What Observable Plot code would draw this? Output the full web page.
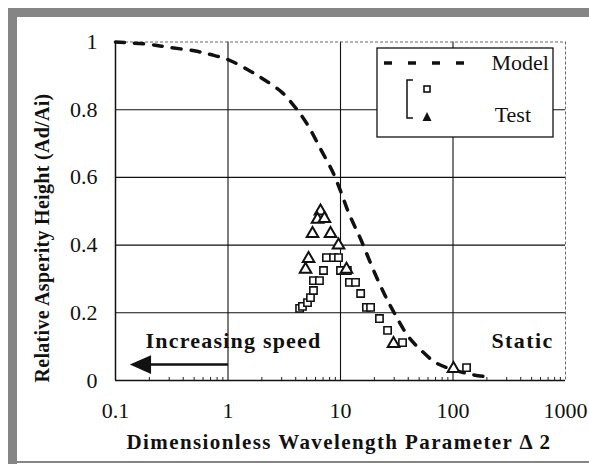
<!DOCTYPE html>
<html>
<head>
<meta charset="utf-8">
<script src="https://cdn.jsdelivr.net/npm/d3@7"></script>
<script src="https://cdn.jsdelivr.net/npm/@observablehq/plot@0.6"></script>
<style>
  html, body { margin: 0; padding: 0; background: #fff; }
  #wrap { position: relative; width: 589px; height: 464px; overflow: hidden; }
  .edge { position: absolute; background: #858585; }
  svg text { font-family: "Liberation Serif", "Times New Roman", serif; }
</style>
</head>
<body>
<div id="wrap">
  <div class="edge" style="left:8px; top:8px; width:581px; height:9px;"></div>
  <div class="edge" style="left:8px; top:8px; width:9px; height:456px;"></div>
  <div class="edge" style="left:17px; top:461px; width:572px; height:2px;"></div>
</div>
<script>
// Model curve: relative asperity height vs dimensionless wavelength parameter
const modelX = [0.1, 0.2, 0.3, 0.5, 0.7, 1, 1.5, 2, 3, 4, 5, 6.75, 8.7, 10, 12, 15, 20, 25, 30, 40, 50, 70, 100, 150, 190];
const modelY = [1.0, 0.993, 0.984, 0.974, 0.963, 0.948, 0.918, 0.893, 0.852, 0.805, 0.76, 0.68, 0.61, 0.56, 0.49, 0.42, 0.32, 0.25, 0.20, 0.13, 0.095, 0.053, 0.032, 0.017, 0.012];

// Test series (open squares)
const squareX = [4.33, 4.59, 5.09, 5.41, 5.75, 5.75, 6.5, 7.06, 7.5, 8.67, 9.6, 10, 11.5, 12.0, 13.6, 15.1, 17.0, 18.5, 22.2, 26.2, 35.6, 132];
const squareY = [0.213, 0.219, 0.230, 0.245, 0.266, 0.295, 0.295, 0.325, 0.363, 0.363, 0.363, 0.325, 0.325, 0.29, 0.29, 0.257, 0.216, 0.216, 0.183, 0.148, 0.112, 0.038];

// Test series (triangles)
const triX = [6.64, 6.25, 7.2, 5.64, 8.15, 9.6, 5.2, 4.89, 11.3, 29.6, 101];
const triY = [0.50, 0.476, 0.478, 0.434, 0.434, 0.40, 0.36, 0.328, 0.328, 0.109, 0.035];

// Axis ticks
const xTicks = [0.1, 1, 10, 100, 1000];
const xTickLabels = ["0.1", "1", "10", "100", "1000"];
const yTicks = [0, 0.2, 0.4, 0.6, 0.8, 1];
const yTickLabels = ["0", "0.2", "0.4", "0.6", "0.8", "1"];
const xGrid = [1, 10, 100];
const yGrid = [0.2, 0.4, 0.6, 0.8];
const minorX = [0.2,0.3,0.4,0.5,0.6,0.7,0.8,0.9, 2,3,4,5,6,7,8,9, 20,30,40,50,60,70,80,90, 200,300,400,500,600,700,800,900];

const model = modelX.map((x, i) => ({x, y: modelY[i]}));
const squares = squareX.map((x, i) => ({x, y: squareY[i]}));
const tris = triX.map((x, i) => ({x, y: triY[i]}));

// left-pointing filled arrowhead symbol
const leftTriangle = {
  draw(ctx, size) {
    const h = Math.sqrt(size) * 0.9;
    ctx.moveTo(-h, 0);
    ctx.lineTo(h * 0.55, -h * 0.68);
    ctx.lineTo(h * 0.55, h * 0.68);
    ctx.closePath();
  }
};

const W = 589, H = 464;
const plot = Plot.plot({
  width: W,
  height: H,
  marginLeft: 115,
  marginRight: 24,
  marginTop: 41.5,
  marginBottom: 84,
  style: {background: "transparent", fontFamily: "Liberation Serif, serif"},
  x: {type: "log", domain: [0.1, 1000]},
  y: {domain: [0, 1]},
  marks: [
    Plot.ruleX(xGrid, {stroke: "#111", strokeWidth: 1.1}),
    Plot.ruleY(yGrid, {stroke: "#111", strokeWidth: 1.1}),
    // frame: solid left/bottom, dotted top/right
    Plot.ruleX([1000], {stroke: "#666", strokeWidth: 1, strokeDasharray: "3,2"}),
    Plot.ruleY([1], {stroke: "#666", strokeWidth: 1, strokeDasharray: "3,2"}),
    Plot.ruleX([0.1], {stroke: "#111", strokeWidth: 1.5}),
    Plot.ruleY([0], {stroke: "#111", strokeWidth: 1.5}),
    Plot.ruleX(minorX, {y1: 0, y2: 0.009, stroke: "#222", strokeWidth: 1}),
    Plot.axisX({ticks: xTicks, tickSize: 0, tickPadding: 22, fontSize: 22, fill: "#111",
      tickFormat: d => xTickLabels[xTicks.indexOf(d)], label: null}),
    Plot.axisY({ticks: yTicks, tickSize: 0, tickPadding: 18, fontSize: 22, fill: "#111",
      tickFormat: d => yTickLabels[yTicks.indexOf(d)], label: null}),
    Plot.line(model, {x: "x", y: "y", stroke: "#111", strokeWidth: 3.5, strokeDasharray: "9,10", curve: "catmull-rom"}),
    Plot.dot(squares, {x: "x", y: "y", symbol: "square", r: 4.1, fill: "white", stroke: "#111", strokeWidth: 1.6}),
    Plot.dot(tris, {x: "x", y: "y", symbol: "triangle", r: 4.3, fill: "white", stroke: "#111", strokeWidth: 2}),
    // annotations
    Plot.text(["Increasing speed"], {x: [1.12], y: [0.118], fontSize: 22, fontWeight: "bold", fill: "#111"}),
    Plot.text(["Static"], {x: [415], y: [0.118], fontSize: 22, fontWeight: "bold", fill: "#111"}),
    Plot.link([0], {x1: [1], x2: [0.18], y1: [0.047], y2: [0.047], stroke: "#111", strokeWidth: 2.5}),
    Plot.dot([0], {x: [0.1774], y: [0.047], symbol: leftTriangle, r: 8.6, fill: "#111", stroke: "none"})
  ]
});

const svg = d3.select(plot);
// widen the bold annotation lettering
svg.selectAll("text").filter(function () { return this.textContent === "Increasing speed"; })
  .attr("letter-spacing", "1.2px");
svg.selectAll("text").filter(function () { return this.textContent === "Static"; })
  .attr("letter-spacing", "1.4px");

// axis titles
svg.append("text").attr("x", 339).attr("y", 449).attr("text-anchor", "middle")
  .attr("font-size", 21).attr("font-weight", "bold").attr("letter-spacing", "1.4px")
  .attr("fill", "#111").text("Dimensionless Wavelength Parameter Δ 2");
svg.append("text").attr("transform", "translate(49,238) rotate(-90)").attr("text-anchor", "middle")
  .attr("font-size", 20).attr("font-weight", "bold").attr("letter-spacing", "0.3px")
  .attr("fill", "#111").text("Relative Asperity Height (Ad/Ai)");

// legend box
const lg = svg.append("g").attr("aria-label", "legend");
lg.append("rect").attr("x", 377).attr("y", 48).attr("width", 176).attr("height", 89)
  .attr("fill", "white").attr("stroke", "#111").attr("stroke-width", 1.3);
lg.append("line").attr("x1", 384).attr("x2", 468).attr("y1", 63).attr("y2", 63)
  .attr("stroke", "#111").attr("stroke-width", 3.5).attr("stroke-dasharray", "8,16");
lg.append("text").attr("x", 549).attr("y", 70).attr("text-anchor", "end")
  .attr("font-size", 22).attr("fill", "#111").text("Model");
lg.append("path").attr("d", "M413,80 H407 V118 H413").attr("fill", "none")
  .attr("stroke", "#111").attr("stroke-width", 1.5);
lg.append("rect").attr("x", 424).attr("y", 86).attr("width", 6).attr("height", 6)
  .attr("fill", "white").attr("stroke", "#111").attr("stroke-width", 1.6);
lg.append("path").attr("d", "M427,112 L431.5,121 L422.5,121 Z").attr("fill", "#111");
lg.append("text").attr("x", 531).attr("y", 122).attr("text-anchor", "end")
  .attr("font-size", 22).attr("fill", "#111").text("Test");

plot.style.position = "absolute";
plot.style.left = "0px";
plot.style.top = "0px";
document.getElementById("wrap").appendChild(plot);
</script>
</body>
</html>
